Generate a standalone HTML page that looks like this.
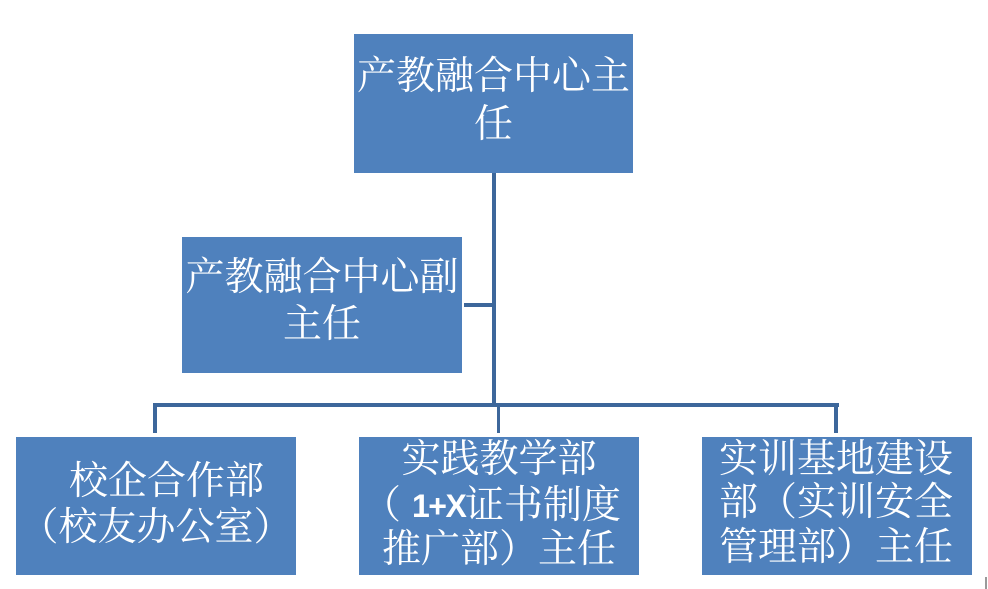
<!DOCTYPE html>
<html>
<head>
<meta charset="utf-8">
<style>
html,body{margin:0;padding:0;background:#fff;}
#c{position:relative;width:988px;height:589px;overflow:hidden;background:#fff;}
.box{position:absolute;background:#4f81bd;}
.ln{position:absolute;background:#3d679b;}
.t{position:absolute;white-space:nowrap;color:#fff;font-family:"Liberation Serif","Noto Serif CJK SC",serif;font-size:39px;line-height:46px;height:46px;}
.b{font-family:"Liberation Sans",sans-serif;font-weight:bold;font-size:32px;letter-spacing:-1.5px;}
</style>
</head>
<body>
<div id="c">
  <!-- connectors -->
  <div class="ln" style="left:492px;top:172px;width:4px;height:235px;"></div>
  <div class="ln" style="left:464px;top:303px;width:30px;height:4px;"></div>
  <div class="ln" style="left:153px;top:403px;width:686px;height:4px;"></div>
  <div class="ln" style="left:153px;top:403px;width:4px;height:30px;"></div>
  <div class="ln" style="left:497px;top:405px;width:3px;height:28px;"></div>
  <div class="ln" style="left:834px;top:403px;width:4px;height:30px;"></div>

  <!-- boxes -->
  <div class="box" style="left:354px;top:34px;width:279px;height:139px;"></div>
  <div class="box" style="left:182px;top:237px;width:280px;height:136px;"></div>
  <div class="box" style="left:16px;top:437px;width:280px;height:138px;"></div>
  <div class="box" style="left:359px;top:437px;width:280px;height:138px;"></div>
  <div class="box" style="left:702px;top:437px;width:270px;height:138px;"></div>

  <!-- top box text -->
  <div class="t" style="left:356px;top:54px;width:275px;text-align:center;">产教融合中心主</div>
  <div class="t" style="left:356px;top:102px;width:275px;text-align:center;">任</div>

  <!-- sub box -->
  <div class="t" style="left:184px;top:255px;width:276px;text-align:center;">产教融合中心副</div>
  <div class="t" style="left:184px;top:302px;width:276px;text-align:center;">主任</div>

  <!-- left box -->
  <div class="t" style="left:69px;top:459px;">校企合作部</div>
  <div class="t" style="left:16px;top:505px;width:280px;text-align:center;">（校友办公室）</div>

  <!-- middle box -->
  <div class="t" style="left:359px;top:437px;width:280px;text-align:center;">实践教学部</div>
  <div class="t" style="left:362px;top:483px;">（</div>
  <div class="t b" style="left:412px;top:483px;">1+X</div>
  <div class="t" style="left:465px;top:483px;">证书制度</div>
  <div class="t" style="left:359px;top:527px;width:280px;text-align:center;">推广部）主任</div>

  <!-- right box -->
  <div class="t" style="left:719px;top:437px;">实训基地建设</div>
  <div class="t" style="left:719px;top:480px;">部（实训安全</div>
  <div class="t" style="left:719px;top:525px;">管理部）主任</div>

  <!-- small gray mark -->
  <div style="position:absolute;left:985px;top:577px;width:2px;height:12px;background:#9a9a9a;"></div>
</div>
</body>
</html>
